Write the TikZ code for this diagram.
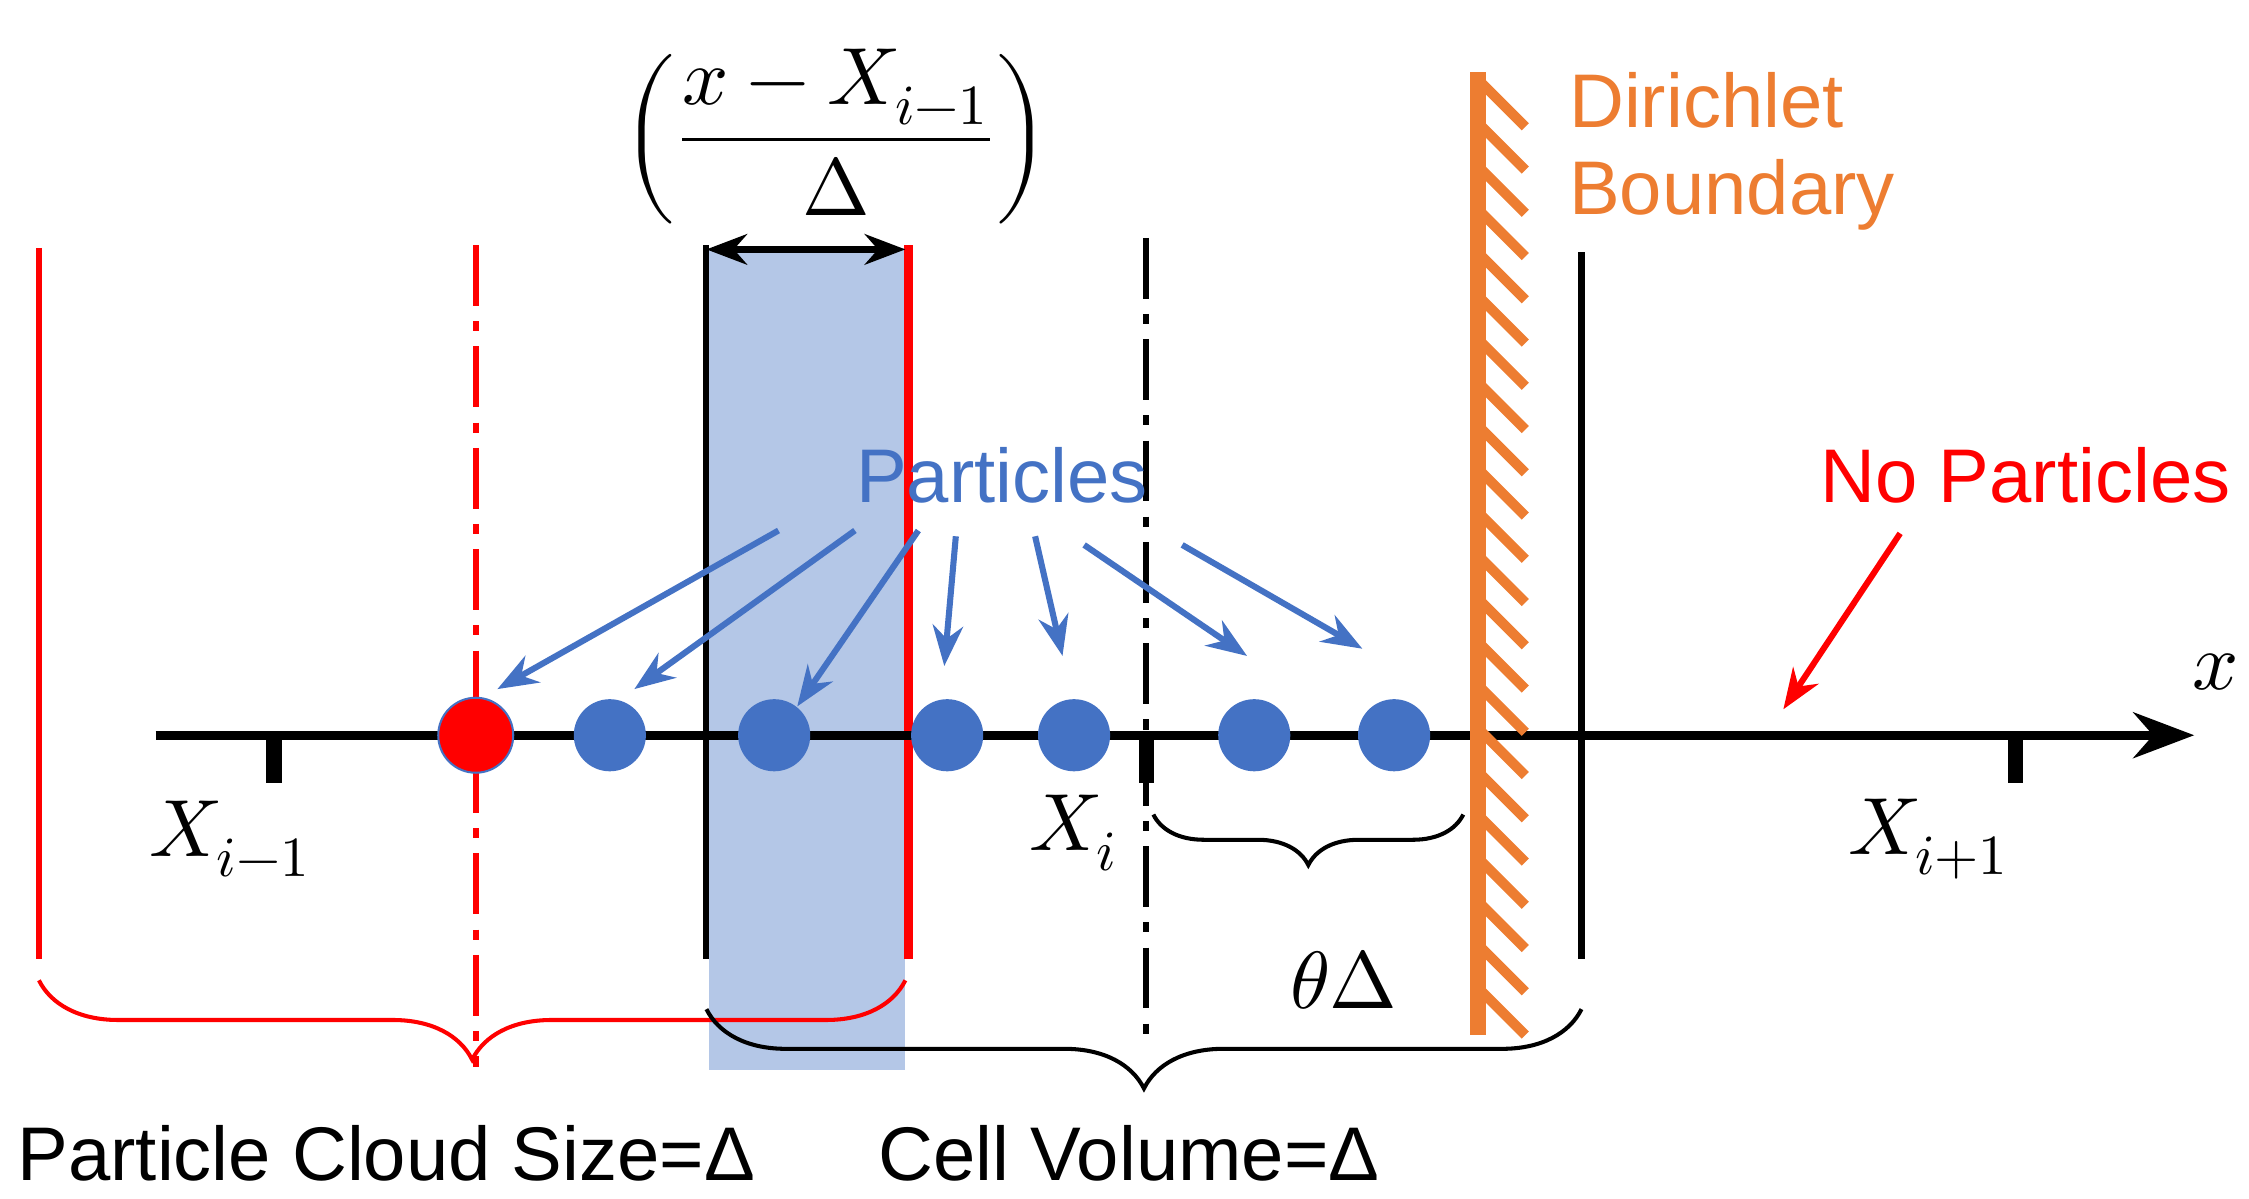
\documentclass[tikz,border=0pt]{standalone}
\usepackage{fontspec}
\setmainfont{Liberation Sans}
\usepackage{unicode-math}
\setmathfont{Latin Modern Math}
\usetikzlibrary{arrows.meta,decorations.pathreplacing}
\definecolor{pblue}{RGB}{68,114,196}
\definecolor{lblue}{RGB}{180,199,231}
\definecolor{orng}{RGB}{237,125,49}
\begin{document}
\begin{tikzpicture}[x=0.01cm,y=-0.01cm,
  dot/.style={circle,fill=pblue,minimum size=0.5cm,inner sep=0},
  parr/.style={-{Stealth[length=8pt]},pblue,line width=1.2pt},
  lab/.style={font=\fontsize{16}{19}\selectfont},
  txt/.style={font=\fontsize{15}{18}\selectfont},
  vline/.style={line width=1.2pt},
  dashdot/.style={line width=1.2pt,dash pattern=on 12pt off 3pt on 2pt off 3pt}]
\useasboundingbox (0,0) rectangle (1560,831);
\fill[lblue] (492,172) rectangle (628,742);
\draw[red,vline] (27,172) -- (27,665);
\draw[red,dashdot] (330,170) -- (330,740);
\draw[dashdot] (795,165) -- (795,720);
\draw[vline] (490,170) -- (490,665);
\draw[red,line width=1.8pt] (630,170) -- (630,665);
\draw[vline] (1097,175) -- (1097,665);
\coordinate (dl) at (490,173); \coordinate (dr) at (628,173);
\draw[{Stealth[length=8pt]}-{Stealth[length=8pt]},line width=1.5pt] (dl) -- (dr);
\node[lab] (frac) at (580,95) {$\left(\dfrac{x-X_{i-1}}{\Delta}\right)$};
\coordinate (a0) at (108,510); \coordinate (a1) at (1522,510);
\draw[-{Stealth[length=12pt]},line width=1.8pt] (a0) -- (a1);
\node[lab] (xl) at (1537,466) {$x$};
\foreach \t in {190,795,1398} \draw[line width=3pt] (\t,510) -- (\t,543);
\node[lab] (xim) at (160,582) {$X_{i-1}$};
\node[lab] (xi) at (745,578) {$X_{i}$};
\node[lab] (xip) at (1338,582) {$X_{i+1}$};
\draw[orng,line width=3.2pt] (1025,50) -- (1025,718);
\foreach \y in {55,85,...,690} \draw[orng,line width=2pt] (1025,\y) -- (1058,\y+33);
\node[txt,orng,align=left,anchor=west] (dir) at (1076,105) {Dirichlet\\[-1pt]Boundary};
\node[circle,fill=red,draw=pblue,minimum size=0.52cm,inner sep=0] (p0) at (330,510) {};
\node[dot] (p1) at (423,510) {};
\node[dot] (p2) at (537,510) {};
\node[dot] (p3) at (657,510) {};
\node[dot] (p4) at (745,510) {};
\node[dot] (p5) at (870,510) {};
\node[dot] (p6) at (967,510) {};
\node[txt,pblue] (part) at (695,330) {Particles};
\coordinate (s0) at (540,368); \coordinate (e0) at (345,478);
\coordinate (s1) at (593,368); \coordinate (e1) at (440,478);
\coordinate (s2) at (637,368); \coordinate (e2) at (553,490);
\coordinate (s3) at (663,372); \coordinate (e3) at (655,462);
\coordinate (s4) at (718,372); \coordinate (e4) at (737,455);
\coordinate (s5) at (752,378); \coordinate (e5) at (865,455);
\coordinate (s6) at (820,378); \coordinate (e6) at (945,450);
\foreach \i in {0,...,6} \draw[parr] (s\i) -- (e\i);
\node[txt,red] (np) at (1405,330) {No Particles};
\coordinate (ns) at (1318,370); \coordinate (ne) at (1237,492);
\draw[-{Stealth[length=8pt]},red,line width=1.2pt] (ns) -- (ne);
\draw[red,line width=0.8pt,decorate,decoration={brace,mirror,amplitude=0.55cm}] (27,680) -- (628,680);
\draw[line width=0.8pt,decorate,decoration={brace,mirror,amplitude=0.55cm}] (490,700) -- (1097,700);
\draw[line width=0.8pt,decorate,decoration={brace,mirror,amplitude=0.35cm}] (800,565) -- (1015,565);
\node[lab] (th) at (932,680) {$\theta\Delta$};
\node[txt] (pc) at (268,800) {Particle Cloud Size=Δ};
\node[txt] (cv) at (783,800) {Cell Volume=Δ};
\end{tikzpicture}
\end{document}
